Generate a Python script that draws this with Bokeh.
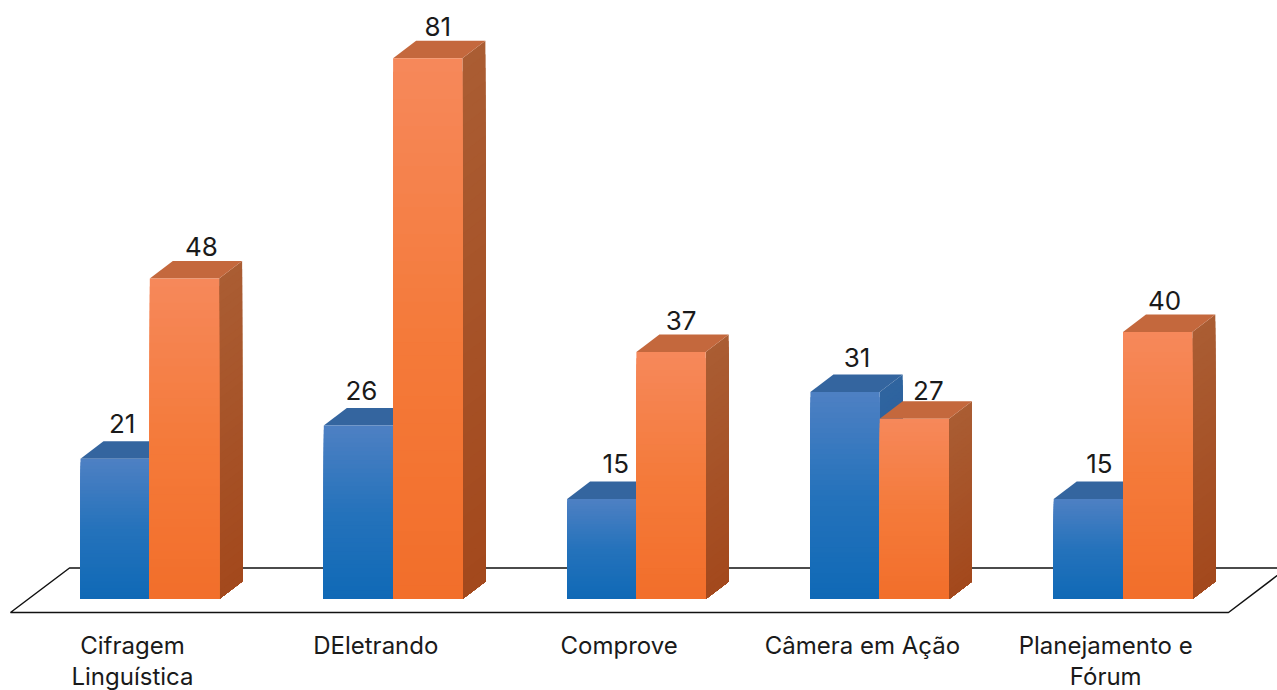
from bokeh.plotting import figure
from bokeh.models import Range1d
from bokeh.core.properties import value
from bokeh.embed import file_html
from bokeh.resources import INLINE

categories = ["Cifragem\nLinguística", "DEletrando", "Comprove", "Câmera em Ação", "Planejamento e\nFórum"]
blue_values = [21, 26, 15, 31, 15]
orange_values = [48, 81, 37, 27, 40]

# layout (screen pixels)
W, H = 1277, 690
PX_X, PX_Y = 243.3, 6.675        # pixels per category / per value unit
X0, Y0 = 132.0, 598.5            # screen position of category 0 / value 0
BAR = 69.3 / PX_X
DX, DY = 23 / PX_X, 17.5 / PX_Y
GROUP_SHIFT = -52 / PX_X         # left of blue bar from category centre

blue_label_dx = [7, 3, 14, 12, 11]
orange_label_dx = [17, 10, 10, 14, 7]
blue_label_gap, orange_label_gap = 8, 5
orange_label_gap_over = {3: 1}

p = figure(width=W, height=H, output_backend="svg", toolbar_location=None,
           x_range=Range1d(-X0 / PX_X, (W - X0) / PX_X),
           y_range=Range1d((Y0 - H) / PX_Y, Y0 / PX_Y),
           min_border=0, outline_line_color=None)
p.axis.visible = False
p.grid.visible = False
p.background_fill_color = "#ffffff"
p.border_fill_color = "#ffffff"


def sx(px):
    return (px - X0) / PX_X


def sy(px):
    return (Y0 - px) / PX_Y


# floor frame
p.line([sx(1277), sx(69), sx(10), sx(1228), sx(1282)],
       [sy(567.5), sy(567.5), sy(612), sy(612), sy(571)],
       line_color="#111111", line_width=1.5)


def mix(c1, c2, t):
    a = [int(c1[i:i + 2], 16) for i in (1, 3, 5)]
    b = [int(c2[i:i + 2], 16) for i in (1, 3, 5)]
    return "#%02x%02x%02x" % tuple(round(u + (v - u) * t) for u, v in zip(a, b))


def bar(left, v, top_col, mid_col, bot_col, side_top, side_bot, roof):
    right = left + BAR
    n = 40
    # side face, painted from the tallest strip down
    for k in range(n, 0, -1):
        lv = v * k / n
        t = k / n
        p.patch([right, right + DX, right + DX, right],
                [0, DY, lv + DY, lv],
                fill_color=mix(side_bot, side_top, t), line_color=None)
    # roof
    p.patch([left, left + DX, right + DX, right], [v, v + DY, v + DY, v],
            fill_color=roof, line_color=None)
    # front face
    for k in range(n, 0, -1):
        lv = v * k / n
        t = k / n
        col = mix(mid_col, top_col, (t - .5) * 2) if t > .5 else mix(bot_col, mid_col, t * 2)
        p.quad(left=left, right=right, bottom=0, top=lv, fill_color=col, line_color=None)


TXT = "#1a1a1a"
FONT = value("Inter")
for i in range(len(categories)):
    lb = i + GROUP_SHIFT
    bar(lb, blue_values[i], "#4d80c3", "#2472bb", "#0f69b6", "#2f649f", "#245a9a", "#34659f")
    bar(lb + BAR, orange_values[i], "#f6885a", "#f47a3a", "#f26e2a", "#aa5d33", "#a3481c", "#c4683d")

for i in range(len(categories)):
    lb = i + GROUP_SHIFT
    p.text([lb + BAR / 2 + blue_label_dx[i] / PX_X], [blue_values[i] + DY + blue_label_gap / PX_Y],
           text=[str(blue_values[i])], text_font=FONT, text_font_size="26px",
           text_color=TXT, text_align="center", text_baseline="bottom")
    gap = orange_label_gap_over.get(i, orange_label_gap)
    p.text([lb + BAR * 1.5 + orange_label_dx[i] / PX_X], [orange_values[i] + DY + gap / PX_Y],
           text=[str(orange_values[i])], text_font=FONT, text_font_size="26px",
           text_color=TXT, text_align="center", text_baseline="bottom")
    for j, line in enumerate(categories[i].split("\n")):
        p.text([i], [sy(645 + j * 31)], text=[line], text_font=FONT, text_font_size="24px",
               text_color=TXT, text_align="center", text_baseline="middle")

open("out.html", "w").write(file_html(p, INLINE))
